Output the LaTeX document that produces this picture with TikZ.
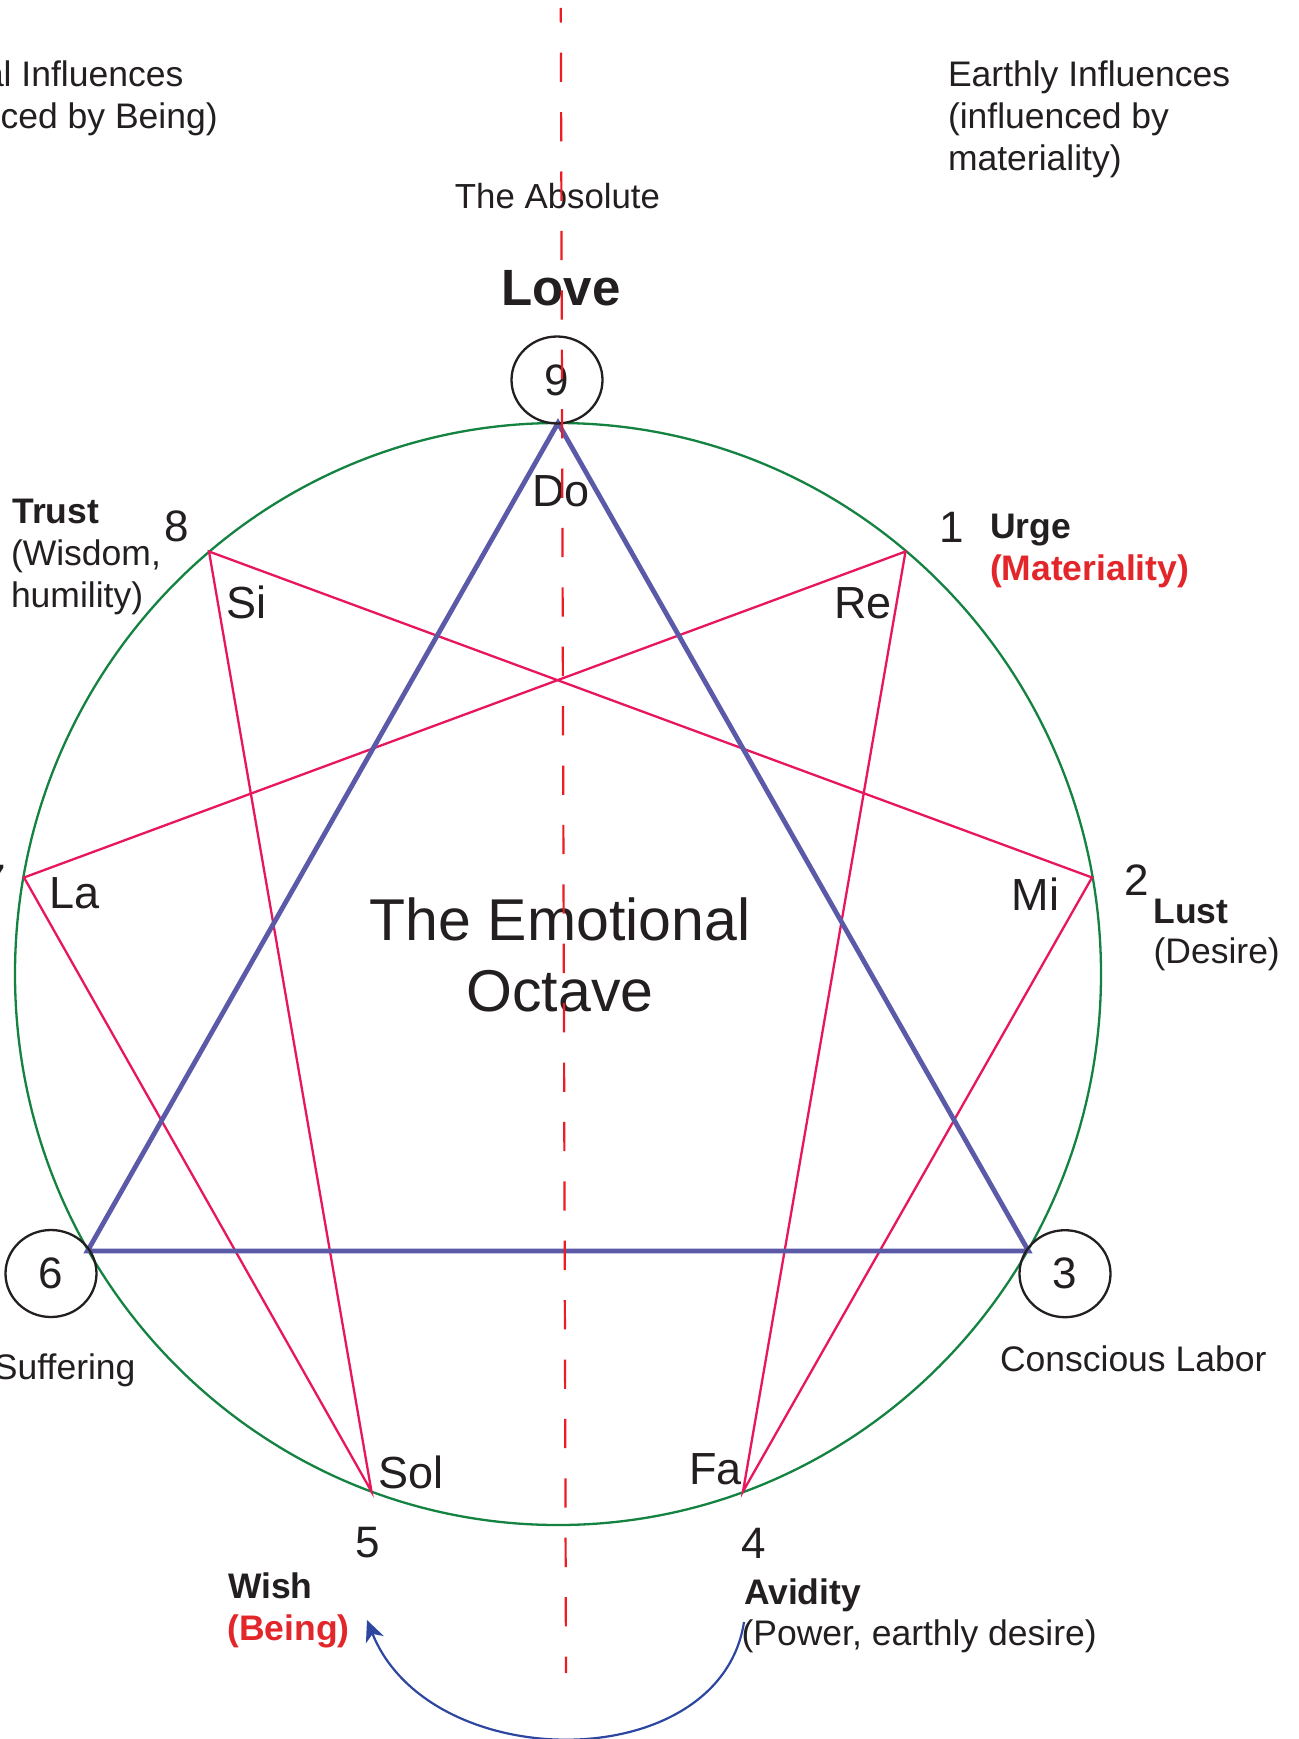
\documentclass[tikz,border=0pt]{standalone}
\usepackage{fontspec}
\setmainfont{Liberation Sans}
\usetikzlibrary{arrows.meta,shapes.geometric}
\definecolor{ink}{RGB}{35,31,32}
\definecolor{redtxt}{RGB}{226,38,42}
\definecolor{circgreen}{RGB}{20,130,65}
\definecolor{hexpink}{RGB}{232,22,94}
\definecolor{triblue}{RGB}{90,90,168}
\definecolor{arrblue}{RGB}{45,70,160}
\definecolor{axisred}{RGB}{237,28,36}
\tikzset{
  txt/.style={inner sep=0pt, outer sep=0pt, text=ink, font=\fontsize{35.5}{41}\selectfont},
  btxt/.style={inner sep=0pt, outer sep=0pt, text=ink, font=\fontsize{35.5}{41}\selectfont\bfseries},
  rtxt/.style={btxt, text=redtxt},
  numtxt/.style={inner sep=0pt, outer sep=0pt, text=ink, font=\fontsize{44}{50}\selectfont},
  notetxt/.style={inner sep=0pt, outer sep=0pt, text=ink, font=\fontsize{45}{50}\selectfont, anchor=base west},
  bigtxt/.style={inner sep=0pt, outer sep=0pt, text=ink, font=\fontsize{59}{70}\selectfont, anchor=base},
  numcirc/.style={draw=ink, line width=2.3pt, ellipse, minimum width=91pt, minimum height=87pt, inner sep=0pt, text=ink, font=\fontsize{44}{50}\selectfont},
  greencirc/.style={draw=circgreen, line width=2.3pt},
  hexad/.style={draw=hexpink, line width=2.3pt, line join=miter},
  triad/.style={draw=triblue, line width=4.8pt, line join=miter},
  axis/.style={draw=axisred, line width=2.2pt, dash pattern=on 29.3pt off 30.1pt, dash phase=14.7pt},
  cyclearrow/.style={draw=arrblue, line width=2.2pt, -{Stealth[length=21pt,width=19pt,inset=6pt]}},
}
\begin{document}
\begin{tikzpicture}[x=1pt,y=1pt]
\useasboundingbox (0,0) rectangle (1298,-1739);
\fill[white] (0,0) rectangle (1298,-1739);
\clip (0,0) rectangle (1298,-1739);

% points on the circle
\coordinate (c) at (558,-974);
\coordinate (p9) at (558,-423);
\coordinate (p1) at (905.5,-551.5);
\coordinate (p2) at (1092,-877.5);
\coordinate (p3) at (1028.5,-1251);
\coordinate (p4) at (743,-1491.5);
\coordinate (p5) at (371.5,-1491.5);
\coordinate (p6) at (87.5,-1251);
\coordinate (p7) at (24,-877.5);
\coordinate (p8) at (209,-551.5);

% circle
\draw[greencirc] (c) ellipse [x radius=543pt, y radius=551pt];

% hexad
\draw[hexad] (p1) -- (p4) -- (p2) -- (p8) -- (p5) -- (p7) -- cycle;

% triangle
\draw[triad] (p9) -- (p3) -- (p6) -- cycle;

% numbered circles
\node[numcirc] (n9) at (557,-380) {9};
\node[numcirc] (n6) at (51,-1273.5) {6};
\node[numcirc] (n3) at (1065,-1273.7) {3};

% numbers
\node[numtxt, anchor=base] (n8) at (176.5,-541.7) {8};
\node[numtxt, anchor=base] (n1) at (951.5,-542) {1};
\node[numtxt, anchor=base] (n2) at (1137,-895.5) {2};
\node[numtxt, anchor=base] (n7) at (-6.5,-895.5) {7};
\node[numtxt, anchor=base] (n4) at (754,-1558) {4};
\node[numtxt, anchor=base] (n5) at (367.5,-1557) {5};

% notes
\node[notetxt] (do) at (532,-506) {Do};
\node[notetxt] (re) at (834,-618) {Re};
\node[notetxt] (mi) at (1011.7,-910) {Mi};
\node[notetxt] (si) at (226.8,-618) {Si};
\node[notetxt] (la) at (49.8,-908) {La};
\node[notetxt] (sol) at (378.6,-1488) {Sol};
\node[notetxt] (fa) at (689,-1484) {Fa};

% top texts
\node[txt, anchor=base west] (spir1) at (-16,-87) {al Influences};
\node[txt, anchor=base east] (spir2) at (217.7,-129) {ced by Being)};
\node[txt, anchor=base west] (earth1) at (948,-87) {Earthly Influences};
\node[txt, anchor=base west] (earth2) at (948,-129) {(influenced by};
\node[txt, anchor=base west] (earth3) at (948,-171) {materiality)};
\node[inner sep=0pt, text=ink, font=\fontsize{34.8}{41}\selectfont, anchor=base] (absolute) at (557.5,-208) {The Absolute};
\node[inner sep=0pt, text=ink, font=\fontsize{51}{60}\selectfont\bfseries, anchor=base] (love) at (561,-305) {Love};

% side labels
\node[btxt, anchor=base west] (trust) at (12.3,-523) {Trust};
\node[txt, anchor=base west] (wisdom1) at (11,-565) {(Wisdom,};
\node[txt, anchor=base west] (wisdom2) at (11,-607) {humility)};
\node[btxt, anchor=base west] (urge) at (990,-538) {Urge};
\node[rtxt, anchor=base west] (mat) at (990,-580) {(Materiality)};
\node[btxt, anchor=base west] (lust) at (1153.5,-923) {Lust};
\node[txt, anchor=base west] (desire) at (1153.6,-963) {(Desire)};
\node[txt, anchor=base west] (suffer) at (-6,-1379) {Suffering};
\node[txt, anchor=base west] (labor) at (1000,-1371) {Conscious Labor};
\node[btxt, anchor=base west] (wish) at (228,-1598) {Wish};
\node[rtxt, anchor=base west] (being) at (227.5,-1640) {(Being)};
\node[btxt, anchor=base west] (avidity) at (744,-1604) {Avidity};
\node[txt, anchor=base west] (power) at (741.6,-1645) {(Power, earthly desire)};

% centre title
\node[bigtxt] (emo1) at (560,-940) {The Emotional};
\node[bigtxt] (emo2) at (560,-1011.7) {Octave};

% returning arrow
\coordinate (arrS) at (744,-1622);
\coordinate (arrE) at (367,-1620);
\draw[cyclearrow] (arrS) .. controls (720,-1777) and (430,-1777) .. (arrE);

% axis
\coordinate (axtop) at (560.8,-8);
\coordinate (axbot) at (566,-1673);
\draw[axis] (axtop) -- (axbot);
\end{tikzpicture}
\end{document}
